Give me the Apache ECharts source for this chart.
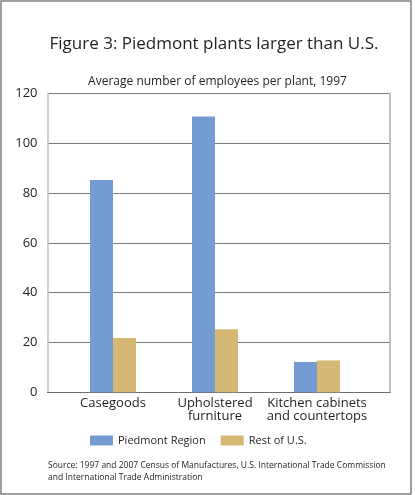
<!DOCTYPE html>
<html>
<head>
<meta charset="utf-8">
<script src="https://cdn.jsdelivr.net/npm/echarts@6/dist/echarts.min.js"></script>
<style>
html,body{margin:0;padding:0;background:#fff;}
#chart{width:415px;height:495px;}
</style>
</head>
<body>
<div id="chart"></div>
<script>
const categories = ['Casegoods', 'Upholstered\nfurniture', 'Kitchen cabinets\nand countertops'];
const piedmont = [85.3, 110.8, 12.2];
const restOfUS = [21.8, 25.3, 12.8];
const yTicks = [0, 20, 40, 60, 80, 100, 120];

const FONT = 'Open Sans';
function textWidth(s, size) {
  const c = document.createElement('canvas').getContext('2d');
  c.font = size + 'px "' + FONT + '"';
  return c.measureText(s).width;
}
const titleText = 'Figure 3: Piedmont plants larger than U.S.';
const subText = 'Average number of employees per plant, 1997';
const chart = echarts.init(document.getElementById('chart'), null, {renderer: 'canvas'});
chart.setOption({
  animation: false,
  backgroundColor: '#fff',
  textStyle: {fontFamily: FONT, color: '#231f20'},
  title: [
    {text: titleText, left: 214 - textWidth(titleText, 17) / 2, top: 36, padding: 0,
     textStyle: {fontFamily: FONT, fontSize: 17, fontWeight: 'normal', color: '#231f20'}},
    {text: subText, left: 217.5 - textWidth(subText, 12) / 2, top: 76, padding: 0,
     textStyle: {fontFamily: FONT, fontSize: 12, fontWeight: 'normal', color: '#231f20'}},
    {text: 'Source: 1997 and 2007 Census of Manufactures, U.S. International Trade Commission\nand International Trade Administration',
     left: 48, top: 460, padding: 0,
     textStyle: {fontFamily: FONT, fontSize: 8.5, lineHeight: 12, fontWeight: 'normal', color: '#231f20'}}
  ],
  legend: {
    left: 90, top: 435, padding: 0, itemWidth: 23, itemHeight: 10, itemGap: 15,
    icon: 'rect',
    textStyle: {fontFamily: FONT, fontSize: 11, color: '#231f20'},
    data: ['Piedmont Region', 'Rest of U.S.']
  },
  grid: [
    {left: 47.5, right: 25, top: 93.5, bottom: 102.7, show: false},
    {left: 62, right: 47, top: 93.5, bottom: 102.7, show: false}
  ],
  xAxis: [
    {type: 'category', gridIndex: 0, data: categories,
     axisLine: {show: true, lineStyle: {color: '#6d6e71', width: 1}},
     axisTick: {show: false}, axisLabel: {show: false}, splitLine: {show: false}},
    {type: 'category', gridIndex: 1, data: categories,
     axisLine: {show: false}, axisTick: {show: false},
     axisLabel: {show: true, fontFamily: FONT, fontSize: 13, lineHeight: 13, color: '#231f20', margin: 4, interval: 0}}
  ],
  yAxis: [
    {type: 'value', gridIndex: 0, min: 0, max: 120, interval: 20,
     axisLine: {show: true, lineStyle: {color: '#c0c0c0', width: 1.5}},
     axisTick: {show: false},
     axisLabel: {fontFamily: FONT, fontSize: 13, color: '#231f20', margin: 10,
       formatter: v => yTicks.includes(v) ? String(v) : ''},
     splitLine: {show: true, lineStyle: {color: '#7a7a7a', width: 1}}},
    {type: 'value', gridIndex: 0, position: 'right', min: 0, max: 120, interval: 20,
     axisLine: {show: true, lineStyle: {color: '#c0c0c0', width: 2}},
     axisTick: {show: false}, axisLabel: {show: false}, splitLine: {show: false}},
    {type: 'value', gridIndex: 1, min: 0, max: 120, interval: 20, show: false}
  ],
  series: [
    {name: 'Piedmont Region', type: 'bar', xAxisIndex: 1, yAxisIndex: 2, data: piedmont,
     barWidth: 23, barGap: '0%', itemStyle: {color: '#749cd2'}},
    {name: 'Rest of U.S.', type: 'bar', xAxisIndex: 1, yAxisIndex: 2, data: restOfUS,
     barWidth: 23, barGap: '0%', itemStyle: {color: '#d5b874'}}
  ],
  graphic: [
    {type: 'rect', shape: {x: 1, y: 1, width: 410, height: 493},
     style: {fill: null, stroke: '#808080', lineWidth: 1.5}, silent: true}
  ]
});
</script>
</body>
</html>
